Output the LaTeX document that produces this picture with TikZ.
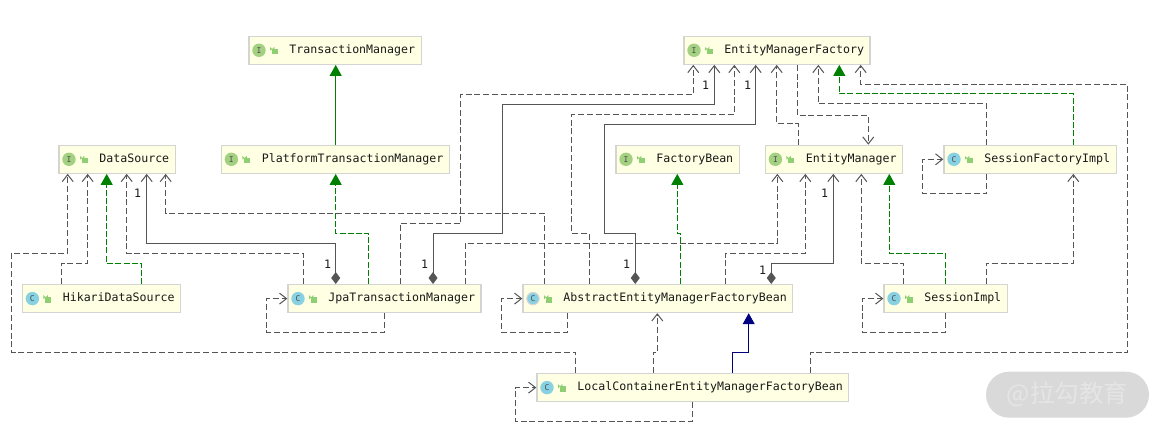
\documentclass[tikz,border=0pt]{standalone}
\usepackage{fontspec}
\setmonofont{DejaVu Sans Mono}
\newfontfamily\cjk{Noto Sans CJK SC}
\usepackage{tikz}
\usetikzlibrary{arrows.meta}
\usetikzlibrary{positioning}
\definecolor{boxfill}{HTML}{FFFFE4}
\definecolor{boxline}{HTML}{D4D4D0}
\definecolor{wire}{HTML}{555555}
\definecolor{implgreen}{HTML}{008000}
\definecolor{extnavy}{HTML}{000080}
\definecolor{ifacegreen}{HTML}{A3D181}
\definecolor{classblue}{HTML}{87D1E3}
\definecolor{lockgreen}{HTML}{90CE73}
\tikzset{
    cls/.style={
           draw=boxline, line width=1.2pt,
           fill=boxfill,
           anchor=north west,
           minimum height=28pt,
           inner xsep=6pt,
           inner ysep=0pt,
           text=black!90,
           font=\ttfamily\fontsize{11.6}{14}\selectfont,
           text height=9pt, text depth=2.5pt,
           execute at begin node={\hspace{34.5pt}},
           },
}
\tikzset{
    iicon/.style={
           circle,
           fill=ifacegreen,
           minimum size=13.4pt,
           inner sep=0pt,
           text=black!70,
           font=\ttfamily\fontsize{8}{8}\selectfont,
           },
}
\tikzset{
    cicon/.style={iicon,fill=classblue},
    aicon/.style={iicon,fill=classblue,minimum size=12.4pt,
           draw=black!16,line width=1.1pt},
    mult/.style={inner sep=0pt,text=black!90,font=\ttfamily\fontsize{11.6}{14}\selectfont},
    dep/.style={draw=wire,line width=1pt,dash pattern=on 6pt off 2.8pt,
           -{Straight Barb[length=7pt,width=11pt]}},
    own/.style={draw=wire,line width=1pt,
           {Diamond[length=12pt,width=9pt,fill=wire]}-{Straight Barb[length=7pt,width=11pt]}},
    impl/.style={draw=implgreen,line width=1pt,dash pattern=on 6pt off 2.2pt,
           -{Triangle[length=11pt,width=12pt,fill=implgreen]}},
    ext/.style={draw=implgreen,line width=1pt,-{Triangle[length=11pt,width=12pt,fill=implgreen]}},
    cext/.style={draw=extnavy,line width=1pt,-{Triangle[length=11pt,width=12pt,fill=extnavy]}},
    padlock/.pic={
           \fill[lockgreen] (0,-1.3) rectangle (6.2,4);
           \draw[lockgreen,line width=0.9pt] (-1.2,0.2) -- (-1.2,-2.4) arc (180:0:1.7) -- (2.2,-1);
           },
}

\begin{document}
\begin{tikzpicture}[x=1pt,y=-1pt]
\useasboundingbox (0,0) rectangle (1165,433);
% interfaces
\node[cls] (tm) at (248.3,35.7) {TransactionManager};
\node[cls] (emf) at (683.3,35.7) {EntityManagerFactory};
\node[cls] (ds) at (58.3,144.7) {DataSource};
\node[cls] (ptm) at (220.7,144.7) {PlatformTransactionManager};
\node[cls] (fb) at (615.3,144.7) {FactoryBean};
\node[cls] (em) at (764.7,144.7) {EntityManager};
% classes
\node[cls] (sfi) at (943.3,144.7) {SessionFactoryImpl};
\node[cls] (hikari) at (21.7,284) {HikariDataSource};
\node[cls] (jpa) at (287.3,284) {JpaTransactionManager};
\node[cls] (abs) at (522.3,284) {AbstractEntityManagerFactoryBean};
\node[cls] (simpl) at (883.3,284) {SessionImpl};
\node[cls] (local) at (536.3,373) {LocalContainerEntityManagerFactoryBean};
% icons
\node[iicon] (tmI) at ([xshift=10.7]tm.west) {I};
\pic at ([xshift=23.4]tm.west) {padlock};
\node[iicon] (emfI) at ([xshift=10.7]emf.west) {I};
\pic at ([xshift=23.4]emf.west) {padlock};
\node[iicon] (dsI) at ([xshift=10.7]ds.west) {I};
\pic at ([xshift=23.4]ds.west) {padlock};
\node[iicon] (ptmI) at ([xshift=10.7]ptm.west) {I};
\pic at ([xshift=23.4]ptm.west) {padlock};
\node[iicon] (fbI) at ([xshift=10.7]fb.west) {I};
\pic at ([xshift=23.4]fb.west) {padlock};
\node[iicon] (emI) at ([xshift=10.7]em.west) {I};
\pic at ([xshift=23.4]em.west) {padlock};
\node[cicon] (sfiC) at ([xshift=10.7]sfi.west) {C};
\pic at ([xshift=23.4]sfi.west) {padlock};
\node[cicon] (hikariC) at ([xshift=10.7]hikari.west) {C};
\pic at ([xshift=23.4]hikari.west) {padlock};
\node[cicon] (jpaC) at ([xshift=10.7]jpa.west) {C};
\pic at ([xshift=23.4]jpa.west) {padlock};
\node[aicon] (absC) at ([xshift=10.7]abs.west) {C};
\pic at ([xshift=23.4]abs.west) {padlock};
\node[cicon] (simplC) at ([xshift=10.7]simpl.west) {C};
\pic at ([xshift=23.4]simpl.west) {padlock};
\node[cicon] (localC) at ([xshift=10.7]local.west) {C};
\pic at ([xshift=23.4]local.west) {padlock};
% into DataSource
\path[dep] ([xshift=39.4]local.north west) -- ++(0,-20.7) -| (11.7,253.3) -| ([xshift=9.4]ds.south west);
\path[dep] ([xshift=40]hikari.north west) -- ++(0,-20.7) -| ([xshift=29.4]ds.south west);
\path[impl] ([xshift=120]hikari.north west) -- ++(0,-20.7) -| ([xshift=48.4]ds.south west);
\path[dep] ([xshift=16]jpa.north west) -- ++(0,-30.7) -| ([xshift=68.4]ds.south west);
\path[own] ([xshift=48.4]jpa.north west) -- ++(0,-40.7) -| ([xshift=88.4]ds.south west);
\path[dep] ([xshift=22]abs.north west) -- ++(0,-70.7) -| ([xshift=107.4]ds.south west);
% transaction managers
\path[impl] ([xshift=81.4]jpa.north west) -- ++(0,-50.7) -| ([xshift=115]ptm.south west);
\path[ext] ([xshift=115]ptm.north west) -- ([xshift=87.4]tm.south west);
% into EntityManagerFactory
\path[dep] ([xshift=112.7]jpa.north west) |- (460.7,223.3) -- (460.7,94.3) -| ([xshift=10]emf.south west);
\path[own] ([xshift=145.7]jpa.north west) |- (502.3,233.3) -- (502.3,104.3) -| ([xshift=31]emf.south west);
\path[dep] ([xshift=67]abs.north west) |- (571.7,233.3) -- (571.7,114.3) -| ([xshift=51]emf.south west);
\path[own] ([xshift=113]abs.north west) |- (604.7,233.3) -- (604.7,124.3) -| ([xshift=72.4]emf.south west);
\path[dep] ([xshift=33.6]em.north west) -- ++(0,-20.7) -| ([xshift=93.4]emf.south west);
\path[dep] ([xshift=114]emf.south west) -- ++(0,50.6) -| ([xshift=103.6]em.north west);
\path[dep] ([xshift=43.4]sfi.north west) -- ++(0,-40.7) -| ([xshift=135]emf.south west);
\path[impl] ([xshift=130]sfi.north west) -- ++(0,-50.7) -| ([xshift=156]emf.south west);
\path[dep] ([xshift=274.4]local.north west) -- ++(0,-20.7) -| (1127.7,84.3) -| ([xshift=177.4]emf.south west);
% into EntityManager
\path[dep] ([xshift=177.7]jpa.north west) -- ++(0,-40.7) -| ([xshift=12.6]em.south west);
\path[dep] ([xshift=203.4]abs.north west) -- ++(0,-30.7) -| ([xshift=40.6]em.south west);
\path[own] ([xshift=249]abs.north west) -- ++(0,-20.7) -| ([xshift=68.6]em.south west);
\path[dep] ([xshift=20]simpl.north west) -- ++(0,-20.7) -| ([xshift=96.6]em.south west);
\path[impl] ([xshift=62]simpl.north west) -- ++(0,-30.7) -| ([xshift=124.6]em.south west);
% the rest
\path[impl] ([xshift=158]abs.north west) -- ++(0,-50.7) -| ([xshift=62]fb.south west);
\path[dep] ([xshift=102.7]simpl.north west) -- ++(0,-20.7) -| ([xshift=130]sfi.south west);
\path[dep] ([xshift=117]local.north west) -- ++(0,-20.7) -| ([xshift=135]abs.south west);
\path[cext] ([xshift=196]local.north west) -- ++(0,-20.7) -| ([xshift=226.4]abs.south west);
% self loops
\path[dep] ([xshift=43.4]sfi.south west) |- (922.3,193.3) |- (sfi.west);
\path[dep] ([xshift=97]jpa.south west) |- (266.7,332) |- (jpa.west);
\path[dep] ([xshift=45.4]abs.south west) |- (501.7,332) |- (abs.west);
\path[dep] ([xshift=156]local.south west) |- (515.3,421.3) |- (local.west);
\path[dep] ([xshift=62]simpl.south west) |- (862.3,332) |- (simpl.west);
% multiplicities
\node[mult] (m1) at (137.7,193.3) {1};
\node[mult] (m2) at (327.7,264.7) {1};
\node[mult] (m3) at (424.7,264.7) {1};
\node[mult] (m4) at (705.7,85) {1};
\node[mult] (m5) at (747.7,85) {1};
\node[mult] (m6) at (824.7,193.7) {1};
\node[mult] (m7) at (626.7,264.7) {1};
\node[mult] (m8) at (762.7,270) {1};
% watermark
\node[fill=black!15,rounded corners=23pt,minimum width=163pt,minimum height=46pt,
      text=white!90!black,font=\cjk\fontsize{24.5}{26}\selectfont,inner sep=0pt] (mark) at (1067.5,394.7) {@拉勾教育};
\end{tikzpicture}
\end{document}
